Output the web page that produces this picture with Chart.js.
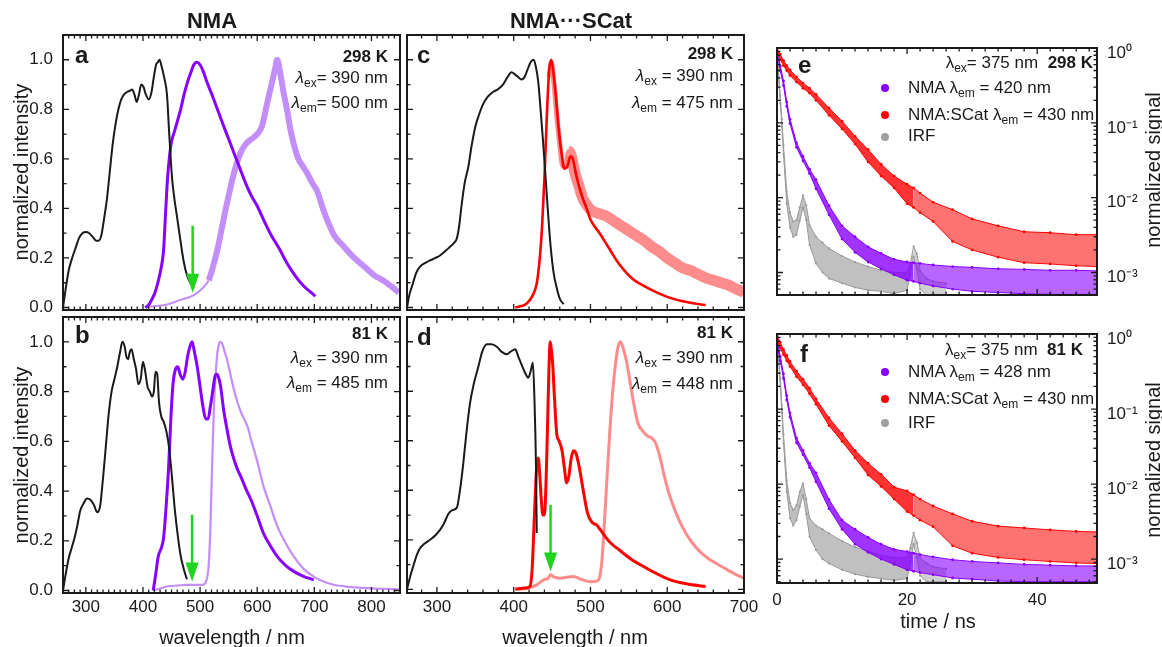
<!DOCTYPE html>
<html>
<head>
<meta charset="utf-8">
<title>NMA / NMA···SCat spectra and decays</title>
<script src="https://cdn.jsdelivr.net/npm/chart.js@4.4.1/dist/chart.umd.min.js"></script>
<style>
  body { margin: 0; background: #fff; }
  #fig { position: relative; width: 1162px; height: 647px; overflow: hidden;
         font-family: "Liberation Sans", Arial, sans-serif; color: #1a1a1a; }
  #fig canvas { position: absolute; left: 0; top: 0; }
  .lbl { position: absolute; white-space: nowrap; line-height: 1; font-size: 17px; }
  .b { font-weight: bold; }
  .lbl sub { font-size: 12px; vertical-align: -4px; line-height: 0; }
  .rot { transform: translate(-50%, -50%) rotate(-90deg); font-size: 20px; }
  .ctr { transform: translateX(-50%); }
  .dot { position: absolute; width: 8px; height: 8px; border-radius: 50%; margin: -4px 0 0 -4px; }
</style>
</head>
<body>
<div id="fig">
  <canvas id="cA" width="1162" height="647"></canvas>
  <canvas id="cB" width="1162" height="647"></canvas>
  <canvas id="cC" width="1162" height="647"></canvas>
  <canvas id="cD" width="1162" height="647"></canvas>
  <canvas id="cE" width="1162" height="647"></canvas>
  <canvas id="cF" width="1162" height="647"></canvas>

  <div class="lbl b ctr" style="left:212px;top:10px;font-size:22px">NMA</div>
  <div class="lbl b ctr" style="left:571px;top:10px;font-size:22px">NMA···SCat</div>

  <div class="lbl b" style="left:75px;top:43px;font-size:24px">a</div>
  <div class="lbl b" style="left:75px;top:323px;font-size:24px">b</div>
  <div class="lbl b" style="left:417px;top:43px;font-size:24px">c</div>
  <div class="lbl b" style="left:417px;top:325px;font-size:24px">d</div>
  <div class="lbl b" style="left:798px;top:53px;font-size:24px">e</div>
  <div class="lbl b" style="left:800px;top:342px;font-size:24px">f</div>

  <div class="lbl b" style="right:774px;top:48px">298 K</div>
  <div class="lbl" style="right:774px;top:69px"><i>λ</i><sub>ex</sub>= 390 nm</div>
  <div class="lbl" style="right:774px;top:94px"><i>λ</i><sub>em</sub>= 500 nm</div>

  <div class="lbl b" style="right:774px;top:325px">81 K</div>
  <div class="lbl" style="right:774px;top:349px"><i>λ</i><sub>ex</sub> = 390 nm</div>
  <div class="lbl" style="right:774px;top:374px"><i>λ</i><sub>em</sub> = 485 nm</div>

  <div class="lbl b" style="right:429px;top:45px">298 K</div>
  <div class="lbl" style="right:429px;top:67px"><i>λ</i><sub>ex</sub> = 390 nm</div>
  <div class="lbl" style="right:429px;top:94px"><i>λ</i><sub>em</sub> = 475 nm</div>

  <div class="lbl b" style="right:429px;top:324px">81 K</div>
  <div class="lbl" style="right:429px;top:349px"><i>λ</i><sub>ex</sub> = 390 nm</div>
  <div class="lbl" style="right:429px;top:375px"><i>λ</i><sub>em</sub> = 448 nm</div>

  <div class="lbl" style="right:69px;top:54px">λ<sub>ex</sub>= 375 nm&nbsp;&nbsp;<b>298 K</b></div>
  <span class="dot" style="left:885px;top:88px;background:#8800ff"></span>
  <span class="dot" style="left:885px;top:115px;background:#ff0000"></span>
  <span class="dot" style="left:885px;top:137px;background:#a0a0a0"></span>
  <div class="lbl" style="left:908px;top:79px">NMA λ<sub>em</sub> = 420 nm</div>
  <div class="lbl" style="left:908px;top:106px">NMA:SCat λ<sub>em</sub> = 430 nm</div>
  <div class="lbl" style="left:908px;top:127px">IRF</div>

  <div class="lbl" style="right:79px;top:341px">λ<sub>ex</sub>= 375 nm&nbsp;&nbsp;<b>81 K</b></div>
  <span class="dot" style="left:885px;top:372px;background:#8800ff"></span>
  <span class="dot" style="left:885px;top:399px;background:#ff0000"></span>
  <span class="dot" style="left:885px;top:423px;background:#a0a0a0"></span>
  <div class="lbl" style="left:908px;top:363px">NMA λ<sub>em</sub> = 428 nm</div>
  <div class="lbl" style="left:908px;top:390px">NMA:SCat λ<sub>em</sub> = 430 nm</div>
  <div class="lbl" style="left:908px;top:414px">IRF</div>

  <div class="lbl rot" style="left:21px;top:172px">normalized intensity</div>
  <div class="lbl rot" style="left:21px;top:455px">normalized intensity</div>
  <div class="lbl ctr" style="left:232px;top:627px;font-size:20px">wavelength / nm</div>
  <div class="lbl ctr" style="left:575px;top:627px;font-size:20px">wavelength / nm</div>
  <div class="lbl ctr" style="left:938px;top:611px;font-size:20px">time / ns</div>
  <div class="lbl rot" style="left:1153px;top:170px">normalized signal</div>
  <div class="lbl rot" style="left:1153px;top:460px">normalized signal</div>
</div>

<script>
// ---- tick labels ----
const wlTicksAB = [300, 400, 500, 600, 700, 800];
const wlTicksCD = [300, 400, 500, 600, 700];
const intTicks = [0, 0.2, 0.4, 0.6, 0.8, 1.0];
const timeTicks = [0, 20, 40];
const sigTicks = [1, 0.1, 0.01, 0.001];
const sigLabels = ["10⁰", "10⁻¹", "10⁻²", "10⁻³"];

// ---- panel a: NMA 298 K (excitation black, emission purple, light purple) ----
const aExcX = [260,265,270,276,282,288,294,300,306,312,318,322,327,332,337,342,347,352,357,362,367,372,377,381,385,389,393,397,401,405,410,415,419,423,426,429,433,437,442,446,451,455,460,465,471,477,483,489];
const aExcY = [0,0.08,0.15,0.2,0.24,0.28,0.3,0.305,0.3,0.285,0.27,0.27,0.29,0.36,0.44,0.55,0.66,0.74,0.8,0.84,0.86,0.87,0.875,0.88,0.86,0.83,0.86,0.9,0.89,0.86,0.84,0.87,0.93,0.98,0.99,1.0,0.97,0.93,0.86,0.7,0.52,0.44,0.36,0.28,0.19,0.13,0.1,0.08];
const aEmX = [404,410,416,421,426,431,436,440,443,446,450,455,460,466,472,478,484,489,494,500,506,512,518,524,532,540,550,560,570,580,590,600,612,625,638,652,666,680,692,702];
const aEmY = [0,0.01,0.035,0.06,0.1,0.15,0.23,0.4,0.52,0.6,0.67,0.71,0.75,0.8,0.86,0.91,0.95,0.98,0.99,0.98,0.95,0.91,0.875,0.84,0.79,0.74,0.68,0.62,0.56,0.5,0.45,0.41,0.35,0.29,0.24,0.18,0.13,0.09,0.065,0.046];
const aPhX = [404,420,442,465,489,505,515,522,530,538,547,559,570,580,590,600,608,617,625,631,635,640,646,652,658,664,672,680,688,697,705,715,725,735,750,770,790,805,820,835,848];
const aPhY = [0,0.005,0.012,0.03,0.05,0.08,0.11,0.16,0.23,0.32,0.42,0.54,0.62,0.66,0.68,0.7,0.73,0.82,0.9,0.96,1.0,0.95,0.87,0.8,0.72,0.66,0.6,0.57,0.54,0.5,0.47,0.4,0.34,0.29,0.25,0.2,0.16,0.13,0.11,0.085,0.06];
const arrowA = [487, 0.33, 0.06];

// ---- panel b: NMA 81 K ----
const bExcX = [260,265,270,275,280,285,290,296,302,308,314,320,325,330,335,340,345,350,355,360,364,368,371,374,377,380,384,388,392,396,400,404,408,412,416,419,422,425,428,432,436,441,446,451,456,461,466,471,477];
const bExcY = [0,0.07,0.13,0.17,0.21,0.26,0.32,0.35,0.37,0.365,0.345,0.315,0.34,0.45,0.58,0.71,0.8,0.85,0.9,0.96,1.0,0.98,0.94,0.93,0.96,0.97,0.93,0.89,0.83,0.85,0.92,0.88,0.82,0.8,0.78,0.8,0.88,0.87,0.76,0.7,0.68,0.64,0.57,0.45,0.32,0.22,0.14,0.09,0.045];
const bEmX = [418,422,427,432,436,440,445,449,453,457,461,465,470,474,478,482,486,490,495,500,505,510,514,518,522,526,529,532,536,541,547,553,559,565,571,580,590,600,611,623,635,650,664,680,699];
const bEmY = [0,0.06,0.14,0.17,0.21,0.32,0.5,0.7,0.84,0.89,0.9,0.87,0.85,0.88,0.94,0.98,1.0,0.96,0.9,0.82,0.74,0.69,0.69,0.74,0.8,0.86,0.87,0.86,0.82,0.73,0.65,0.58,0.53,0.49,0.46,0.41,0.36,0.3,0.23,0.18,0.137,0.1,0.077,0.058,0.043];
const bPhX = [418,430,442,460,477,495,506,511,515,518,521,524,527,530,533,536,539,543,547,553,559,565,571,577,583,590,600,611,623,635,650,664,680,699,715,734,760,792,820,848];
const bPhY = [0,0.008,0.016,0.02,0.023,0.023,0.024,0.04,0.1,0.25,0.5,0.72,0.86,0.95,0.99,1.0,0.99,0.96,0.93,0.87,0.81,0.76,0.72,0.69,0.66,0.6,0.52,0.42,0.34,0.26,0.19,0.137,0.09,0.056,0.037,0.023,0.015,0.01,0.007,0.005];
const arrowB = [486, 0.305, 0.036];

// ---- panel c: NMA···SCat 298 K ----
const cExcX = [261,264,268,273,278,285,291,298,304,310,317,322,326,329,332,336,341,345,350,355,360,366,373,379,386,392,397,402,406,410,414,418,422,426,429,432,435,438,441,445,448,452,456,460,465];
const cExcY = [0,0.05,0.09,0.14,0.165,0.18,0.19,0.2,0.21,0.225,0.245,0.26,0.28,0.33,0.41,0.5,0.57,0.65,0.73,0.78,0.82,0.85,0.87,0.88,0.9,0.93,0.95,0.94,0.93,0.92,0.93,0.96,0.99,1.0,0.97,0.91,0.8,0.68,0.55,0.37,0.25,0.14,0.08,0.036,0.013];
const cEmX = [402,410,417,424,430,434,437,440,443,446,449,452,455,458,462,466,470,474,477,481,485,490,495,500,506,512,518,526,534,544,555,565,580,600,620,650];
const cEmY = [0,0.006,0.016,0.045,0.097,0.2,0.33,0.52,0.76,0.95,1.0,0.94,0.85,0.74,0.63,0.56,0.57,0.61,0.6,0.54,0.49,0.44,0.4,0.355,0.325,0.3,0.27,0.23,0.19,0.15,0.115,0.095,0.07,0.043,0.025,0.01];
const cPhX = [446,449,452,456,460,464,468,472,476,480,485,490,496,502,510,520,530,540,550,560,570,580,590,600,610,620,630,640,650,660,670,680,690,700];
const cPhY = [0.93,0.99,0.92,0.78,0.66,0.57,0.58,0.63,0.6,0.54,0.49,0.44,0.41,0.39,0.38,0.37,0.35,0.33,0.31,0.29,0.27,0.245,0.225,0.2,0.18,0.16,0.15,0.135,0.12,0.11,0.1,0.09,0.075,0.062];

// ---- panel d: NMA···SCat 81 K ----
const dExcX = [261,265,269,274,278,284,291,297,304,309,315,320,326,330,334,338,343,348,354,359,365,371,378,384,391,396,402,406,410,414,419,422,425,427,429,430];
const dExcY = [0,0.05,0.092,0.14,0.166,0.185,0.2,0.215,0.24,0.265,0.305,0.32,0.33,0.4,0.5,0.62,0.75,0.83,0.9,0.96,0.99,0.99,0.98,0.96,0.95,0.96,0.97,0.94,0.91,0.88,0.855,0.88,0.915,0.77,0.5,0.227];
const dEmX = [402,415,421,424,427,430,432,434,436,438,440,442,444,446,447.5,449,451,453,456,459,463,466,469,472,475,478,481,485,490,496,502,508,513,520,527,535,545,556,569,585,604,625,650];
const dEmY = [0,0.005,0.011,0.08,0.3,0.5,0.53,0.46,0.36,0.3,0.3,0.42,0.65,0.9,1.0,0.97,0.9,0.78,0.63,0.6,0.56,0.49,0.43,0.46,0.53,0.56,0.55,0.5,0.41,0.31,0.27,0.26,0.24,0.21,0.185,0.165,0.14,0.115,0.092,0.065,0.038,0.022,0.011];
const dPhX = [405,420,430,439,445,448,452,460,468,478,488,500,508,512,515,518,521,525,529,533,536,539,542,547,552,557,562,568,574,580,585,590,596,602,610,620,632,645,658,672,686,700];
const dPhY = [0,0.006,0.018,0.038,0.045,0.06,0.05,0.045,0.048,0.052,0.04,0.03,0.033,0.05,0.12,0.26,0.42,0.63,0.8,0.92,0.98,1.0,0.98,0.92,0.83,0.74,0.67,0.64,0.62,0.61,0.59,0.54,0.46,0.39,0.32,0.25,0.19,0.145,0.115,0.09,0.065,0.045];
const arrowD = [448, 0.341, 0.072];

// ---- panels e/f: decays, upper and lower edge of each point cloud ----
const decayT = [0,0.5,1,1.5,2,3,4,5,6,8,10,12,14,16,18,20,21,22,24,27,30,34,38,42,46,49.2];
const irfT = [0,0.25,0.5,0.75,1,1.5,2,2.5,3,3.5,4,4.5,5,6,7,8,10,12,14,16,18,20,20.5,21,21.5,22,23,24,26];

const eRedHi = [1.0,0.82,0.68,0.58,0.51,0.41,0.34,0.29,0.24,0.158,0.105,0.066,0.044,0.028,0.0195,0.0151,0.0135,0.0115,0.0087,0.0069,0.0052,0.0042,0.0035,0.0034,0.0032,0.0032];
const eRedLo = [0.88,0.70,0.58,0.50,0.43,0.35,0.29,0.25,0.20,0.126,0.083,0.052,0.030,0.0195,0.0135,0.0083,0.0074,0.0063,0.0048,0.0026,0.0020,0.0016,0.00135,0.0013,0.00123,0.0012];
const ePurHi = [1.0,0.575,0.363,0.19,0.112,0.054,0.0355,0.024,0.0174,0.0078,0.0042,0.003,0.0022,0.0018,0.0015,0.00138,0.00135,0.00132,0.00126,0.0012,0.00117,0.00112,0.0011,0.00107,0.00107,0.00105];
const ePurLo = [0.87,0.50,0.316,0.166,0.098,0.047,0.031,0.021,0.0132,0.0059,0.0028,0.00186,0.00138,0.00112,0.00093,0.00079,0.00076,0.00072,0.00066,0.0006,0.00056,0.00054,0.00052,0.00051,0.00051,0.00051];
const eIrfHi = [1.0,0.49,0.23,0.112,0.05,0.012,0.0063,0.0048,0.005,0.0074,0.0107,0.0079,0.0043,0.003,0.0025,0.0021,0.00166,0.00138,0.0012,0.00107,0.001,0.001,0.00132,0.00224,0.00178,0.00105,0.00083,0.00076,0.00071];
const eIrfLo = [0.89,0.40,0.18,0.089,0.038,0.0083,0.004,0.003,0.0032,0.0049,0.0074,0.005,0.00234,0.00132,0.001,0.00083,0.00072,0.00063,0.00058,0.00056,0.00052,0.00058,0.00095,0.00162,0.00112,0.0006,0.0005,0.0005,0.0005];

const fRedHi = [0.94,0.77,0.62,0.52,0.43,0.32,0.25,0.19,0.136,0.076,0.047,0.028,0.019,0.0135,0.0091,0.0081,0.0072,0.0063,0.0051,0.004,0.0032,0.00275,0.0026,0.00245,0.00234,0.0023];
const fRedLo = [0.80,0.65,0.53,0.44,0.37,0.27,0.21,0.16,0.116,0.06,0.037,0.0224,0.0132,0.0093,0.0063,0.0043,0.0038,0.0033,0.0027,0.0015,0.0012,0.00105,0.00098,0.00093,0.00089,0.00087];
const fPurHi = [0.85,0.50,0.295,0.151,0.089,0.041,0.028,0.019,0.0141,0.0062,0.0033,0.0025,0.00195,0.00158,0.00135,0.00126,0.0012,0.00115,0.00107,0.00098,0.00093,0.00089,0.00085,0.00083,0.00081,0.00081];
const fPurLo = [0.74,0.44,0.257,0.132,0.078,0.0355,0.0245,0.0166,0.0107,0.0047,0.0025,0.00158,0.00123,0.001,0.00085,0.00072,0.00069,0.00066,0.00062,0.00056,0.00054,0.00051,0.0005,0.0005,0.0005,0.0005];
const fIrfHi = [1.0,0.55,0.25,0.112,0.046,0.0112,0.0056,0.0045,0.0052,0.0079,0.0102,0.0063,0.0035,0.0028,0.0025,0.0022,0.00174,0.00145,0.00126,0.00112,0.00105,0.00105,0.00141,0.00224,0.00166,0.00105,0.00087,0.00079,0.00074];
const fIrfLo = [0.89,0.44,0.2,0.089,0.035,0.0079,0.0035,0.0028,0.0033,0.005,0.0071,0.004,0.002,0.00132,0.001,0.00087,0.00072,0.00063,0.00058,0.00055,0.00052,0.00055,0.00089,0.00158,0.00105,0.0006,0.0005,0.0005,0.0005];

const W = 1162, H = 647;
const FONT = '"Liberation Sans", Arial, sans-serif';
const INK = "#1a1a1a";
const PURPLE = "#8800ff", LILAC = "rgba(190,130,250,0.9)";
const RED = "#ff0000", PINK = "rgba(255,120,120,0.85)";
const GREEN = "#1fd31f";

const pts = (xs, ys) => xs.map((x, i) => ({ x: x, y: ys[i] }));

// thin below xThin, wide above (noisy spectra look like a band)
function line(xs, ys, color, width, xThin, thinWidth) {
  const ds = { data: pts(xs, ys), borderColor: color, borderWidth: width, pointRadius: 0,
               fill: false, cubicInterpolationMode: "monotone" };
  if (xThin !== undefined) {
    ds.segment = { borderWidth: (c) => (c.p0.parsed.x < xThin ? thinWidth : width) };
  }
  return ds;
}

// two edges of a point cloud, filled between them; lighter where the cloud gets sparse
function cloud(xs, hi, lo, color, fillColor, tailFill, r) {
  const base = { borderColor: color, pointBackgroundColor: color, pointBorderWidth: 0,
                 borderWidth: 1, pointRadius: r, backgroundColor: fillColor,
                 segment: { backgroundColor: (c) => (c.p0.parsed.x >= 21 ? tailFill : fillColor) } };
  return [
    Object.assign({ data: pts(xs, hi), fill: "+1" }, base),
    Object.assign({ data: pts(xs, lo), fill: false }, base)
  ];
}

function axis(type, pos, min, max, tickVals, show, pad, size, fmt, fontSize, labelOffset) {
  return {
    type: type, position: pos, min: min, max: max,
    grid: { display: false, drawTicks: false },
    border: { display: false },
    ticks: { display: show, padding: pad, autoSkip: false, maxRotation: 0, minRotation: 0,
             labelOffset: labelOffset || 0,
             font: { family: FONT, size: fontSize || 17 }, color: INK, callback: fmt },
    afterBuildTicks: (s) => { s.ticks = tickVals.map((v) => ({ value: v })); },
    afterFit: (s) => {
      if (s.isHorizontal()) s.height = size; else s.width = size;
      s.paddingLeft = s.paddingRight = s.paddingTop = s.paddingBottom = 0;
    }
  };
}

// box frame, inward ticks on all four sides, and the green arrows
const framePlugin = {
  id: "frame",
  afterDraw(chart, args, o) {
    const { ctx, chartArea: a } = chart;
    const x = chart.scales.x, y = chart.scales.y;
    ctx.save();
    ctx.strokeStyle = INK;
    ctx.lineWidth = 1.3;
    ctx.beginPath();
    const r = Math.round(o.xMajor / o.xMinor);
    for (let k = Math.ceil(x.min / o.xMinor - 1e-9); k * o.xMinor <= x.max + 1e-9; k++) {
      const p = x.getPixelForValue(k * o.xMinor);
      const len = k % r === 0 ? 6 : 3.5;
      ctx.moveTo(p, a.bottom); ctx.lineTo(p, a.bottom - len);
      ctx.moveTo(p, a.top); ctx.lineTo(p, a.top + len);
    }
    const yv = [];
    if (o.log) {
      for (let e = -4; e <= 0; e++) {
        for (let m = 1; m <= 9; m++) {
          const v = m * Math.pow(10, e);
          if (v >= y.min && v <= y.max * 1.0001) yv.push([v, m === 1]);
        }
      }
    } else {
      const ry = Math.round(o.yMajor / o.yMinor);
      for (let k = Math.ceil(y.min / o.yMinor - 1e-9); k * o.yMinor <= y.max + 1e-9; k++) {
        yv.push([k * o.yMinor, k % ry === 0]);
      }
    }
    yv.forEach(([v, major]) => {
      const p = y.getPixelForValue(v);
      const len = major ? 6 : 3.5;
      ctx.moveTo(a.left, p); ctx.lineTo(a.left + len, p);
      ctx.moveTo(a.right, p); ctx.lineTo(a.right - len, p);
    });
    ctx.stroke();
    ctx.lineWidth = 2;
    ctx.strokeRect(a.left, a.top, a.right - a.left, a.bottom - a.top);

    if (o.arrow) {
      const px = x.getPixelForValue(o.arrow[0]);
      const p0 = y.getPixelForValue(o.arrow[1]);
      const p1 = y.getPixelForValue(o.arrow[2]);
      ctx.strokeStyle = GREEN;
      ctx.fillStyle = GREEN;
      ctx.lineWidth = 2.5;
      ctx.beginPath();
      ctx.moveTo(px, p0); ctx.lineTo(px, p1 - 14);
      ctx.stroke();
      ctx.beginPath();
      ctx.moveTo(px - 6.5, p1 - 19); ctx.lineTo(px + 6.5, p1 - 19); ctx.lineTo(px, p1);
      ctx.closePath();
      ctx.fill();
    }
    ctx.restore();
  }
};

// area = [left, top, right, bottom] of the plot box; sizes = space the axes take
function makeChart(id, area, sizes, scales, datasets, frame) {
  return new Chart(document.getElementById(id), {
    type: "line",
    data: { datasets: datasets },
    options: {
      responsive: false, animation: false, events: [],
      layout: { padding: {
        left: area[0] - (sizes.left || 0), top: area[1],
        right: W - area[2] - (sizes.right || 0), bottom: H - area[3] - (sizes.bottom || 0) } },
      plugins: { legend: { display: false }, tooltip: { enabled: false }, frame: frame },
      scales: scales
    },
    plugins: [framePlugin]
  });
}

const fmt1 = (v) => v.toFixed(1);
const fmtN = (v) => String(v);
const fmtSig = (v, i) => sigLabels[i];
const specFrameAB = { xMinor: 10, xMajor: 100, yMinor: 0.1, yMajor: 0.2 };
const specFrameCD = { xMinor: 20, xMajor: 100, yMinor: 0.1, yMajor: 0.2 };

makeChart("cA", [63, 35, 400, 310], { left: 63 }, {
  x: axis("linear", "bottom", 260, 850, wlTicksAB, false, 4, 0, fmtN),
  y: axis("linear", "left", -0.01, 1.1, intTicks, true, 10, 63, fmt1)
}, [
  line(aExcX, aExcY, INK, 2),
  line(aEmX, aEmY, PURPLE, 3),
  line(aPhX, aPhY, LILAC, 6, 515, 2)
], Object.assign({ arrow: arrowA }, specFrameAB));

makeChart("cB", [63, 317, 400, 593], { left: 63, bottom: 30 }, {
  x: axis("linear", "bottom", 260, 850, wlTicksAB, true, 4, 30, fmtN),
  y: axis("linear", "left", -0.01, 1.1, intTicks, true, 10, 63, fmt1)
}, [
  line(bExcX, bExcY, INK, 2),
  line(bEmX, bEmY, PURPLE, 3),
  line(bPhX, bPhY, LILAC, 2.2)
], Object.assign({ arrow: arrowB }, specFrameAB));

makeChart("cC", [407, 35, 744, 310], {}, {
  x: axis("linear", "bottom", 261, 700, wlTicksCD, false, 4, 0, fmtN),
  y: axis("linear", "left", -0.01, 1.1, intTicks, false, 10, 0, fmt1)
}, [
  line(cExcX, cExcY, INK, 2),
  line(cEmX, cEmY, RED, 2.6),
  line(cPhX, cPhY, PINK, 11, 470, 5)
], specFrameCD);

makeChart("cD", [407, 317, 744, 593], { bottom: 30 }, {
  x: axis("linear", "bottom", 261, 700, wlTicksCD, true, 4, 30, fmtN),
  y: axis("linear", "left", -0.015, 1.1, intTicks, false, 10, 0, fmt1)
}, [
  line(dExcX, dExcY, INK, 2),
  line(dEmX, dEmY, RED, 3),
  line(dPhX, dPhY, PINK, 3)
], Object.assign({ arrow: arrowD }, specFrameCD));

const decayFrame = { xMinor: 2, xMajor: 20, log: true };

makeChart("cE", [777, 48, 1097, 295], { right: 60 }, {
  x: axis("linear", "bottom", 0, 49.2, timeTicks, false, 7, 0, fmtN),
  y: axis("logarithmic", "right", 0.0005, 1, sigTicks, true, 10, 60, fmtSig, 17, 5)
}, [].concat(
  cloud(decayT, eRedHi, eRedLo, RED, "rgba(255,0,0,0.8)", "rgba(255,20,20,0.6)", 1.4),
  cloud(decayT, ePurHi, ePurLo, PURPLE, "rgba(136,0,255,0.8)", "rgba(136,0,255,0.6)", 1.4),
  cloud(irfT, eIrfHi, eIrfLo, "#9a9a9a", "rgba(150,150,150,0.6)", "rgba(150,150,150,0.45)", 1.1)
), decayFrame);

makeChart("cF", [777, 334, 1097, 583], { right: 60, bottom: 30 }, {
  x: axis("linear", "bottom", 0, 49.2, timeTicks, true, 7, 30, fmtN),
  y: axis("logarithmic", "right", 0.00048, 1, sigTicks, true, 10, 60, fmtSig, 17, 5)
}, [].concat(
  cloud(decayT, fRedHi, fRedLo, RED, "rgba(255,0,0,0.8)", "rgba(255,20,20,0.6)", 1.4),
  cloud(decayT, fPurHi, fPurLo, PURPLE, "rgba(136,0,255,0.8)", "rgba(136,0,255,0.6)", 1.4),
  cloud(irfT, fIrfHi, fIrfLo, "#9a9a9a", "rgba(150,150,150,0.6)", "rgba(150,150,150,0.45)", 1.1)
), decayFrame);
</script>
</body>
</html>
